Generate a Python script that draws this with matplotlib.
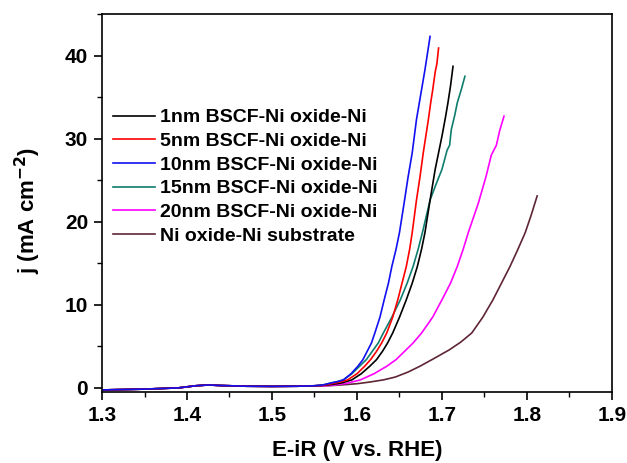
import matplotlib.pyplot as plt
from matplotlib.ticker import MultipleLocator

plt.rcParams['font.family'] = ['Liberation Sans', 'DejaVu Sans']
plt.rcParams['font.weight'] = 'bold'
plt.rcParams['mathtext.default'] = 'bf'

# shared low-potential baseline (all curves overlap here)
e_base = [1.30, 1.35, 1.39, 1.41, 1.425, 1.44, 1.47, 1.50, 1.53, 1.55]
j_base = [-0.25, -0.15, 0.0, 0.25, 0.35, 0.28, 0.2, 0.18, 0.2, 0.25]

# 1nm BSCF-Ni oxide-Ni
e_1nm = [1.56, 1.57, 1.582, 1.594, 1.605, 1.615, 1.623, 1.630, 1.636, 1.642, 1.650, 1.658, 1.665,
         1.671, 1.676, 1.680, 1.686, 1.692, 1.696, 1.700, 1.704, 1.707, 1.710, 1.713]
j_1nm = [0.3, 0.4, 0.6, 0.96, 1.7, 2.6, 3.4, 4.4, 5.4, 6.6, 8.5, 10.6, 12.6,
         14.6, 16.7, 18.7, 22.6, 26.3, 28.3, 30.3, 32.5, 34.3, 36.3, 38.7]

# 5nm BSCF-Ni oxide-Ni
e_5nm = [1.56, 1.57, 1.580, 1.589, 1.600, 1.609, 1.616, 1.623, 1.629, 1.635, 1.642, 1.648, 1.653,
         1.658, 1.662, 1.665, 1.670, 1.674, 1.678, 1.684, 1.687, 1.689, 1.692, 1.694, 1.696]
j_5nm = [0.3, 0.5, 0.7, 0.96, 1.7, 2.6, 3.4, 4.4, 5.4, 6.6, 8.5, 10.6, 12.6,
         14.6, 16.7, 18.7, 22.6, 25.3, 28.3, 32.3, 34.5, 35.8, 38.0, 39.0, 40.9]

# 10nm BSCF-Ni oxide-Ni
e_10nm = [1.56, 1.57, 1.577, 1.584, 1.593, 1.601, 1.607, 1.612, 1.617, 1.621, 1.627, 1.632, 1.637,
          1.641, 1.646, 1.650, 1.656, 1.660, 1.665, 1.670, 1.675, 1.680, 1.686]
j_10nm = [0.35, 0.6, 0.75, 0.96, 1.7, 2.6, 3.4, 4.4, 5.4, 6.6, 8.5, 10.6, 12.6,
          14.6, 16.7, 18.7, 22.6, 25.3, 28.3, 32.3, 35.3, 38.3, 42.3]

# 15nm BSCF-Ni oxide-Ni
e_15nm = [1.56, 1.57, 1.577, 1.584, 1.594, 1.603, 1.611, 1.618, 1.625, 1.631, 1.641, 1.651, 1.659,
          1.666, 1.672, 1.677, 1.686, 1.693, 1.700, 1.706, 1.709, 1.711, 1.715, 1.718, 1.723, 1.727]
j_15nm = [0.35, 0.6, 0.75, 0.96, 1.7, 2.6, 3.4, 4.4, 5.4, 6.6, 8.5, 10.6, 12.6,
          14.6, 16.7, 18.7, 22.6, 24.5, 26.3, 28.6, 29.2, 31.1, 32.8, 34.3, 36.0, 37.5]

# 20nm BSCF-Ni oxide-Ni
e_20nm = [1.56, 1.57, 1.588, 1.604, 1.620, 1.635, 1.646, 1.656, 1.666, 1.676, 1.689, 1.700, 1.710,
          1.718, 1.725, 1.731, 1.737, 1.743, 1.752, 1.758, 1.761, 1.764, 1.768, 1.773]
j_20nm = [0.25, 0.3, 0.55, 0.96, 1.7, 2.6, 3.4, 4.4, 5.4, 6.6, 8.5, 10.6, 12.6,
          14.6, 16.7, 18.7, 20.5, 22.3, 25.5, 28.0, 28.6, 29.2, 31.0, 32.7]

# Ni oxide-Ni substrate
e_sub = [1.56, 1.57, 1.585, 1.600, 1.615, 1.631, 1.645, 1.660, 1.674, 1.690, 1.709, 1.722, 1.735,
         1.748, 1.760, 1.770, 1.780, 1.789, 1.798, 1.805, 1.812]
j_sub = [0.25, 0.28, 0.38, 0.5, 0.7, 0.96, 1.3, 1.9, 2.6, 3.5, 4.6, 5.5, 6.6,
         8.5, 10.6, 12.6, 14.6, 16.6, 18.7, 20.8, 23.1]

labels = ['1nm BSCF-Ni oxide-Ni', '5nm BSCF-Ni oxide-Ni', '10nm BSCF-Ni oxide-Ni',
          '15nm BSCF-Ni oxide-Ni', '20nm BSCF-Ni oxide-Ni', 'Ni oxide-Ni substrate']
colors = ['#000000', '#ff0000', '#1010f0', '#0e7d6e', '#ff00ff', '#5e2535']
series = [(e_1nm, j_1nm), (e_5nm, j_5nm), (e_10nm, j_10nm),
          (e_15nm, j_15nm), (e_20nm, j_20nm), (e_sub, j_sub)]

fig = plt.figure(figsize=(6.27, 4.63), dpi=100)
ax = fig.add_axes([0.1627, 0.1533, 0.8133, 0.8165])

# draw substrate first so the others sit on top, legend order kept
order = [5, 4, 3, 0, 1, 2]
handles = {}
for i in order:
    e, j = series[i]
    ln, = ax.plot(e_base + e, j_base + j, color=colors[i], lw=1.2, label=labels[i])
    handles[i] = ln

ax.set_xlim(1.3, 1.9)
ax.set_ylim(-0.5, 45)
ax.xaxis.set_major_locator(MultipleLocator(0.1))
ax.xaxis.set_minor_locator(MultipleLocator(0.05))
ax.yaxis.set_major_locator(MultipleLocator(10))
ax.yaxis.set_minor_locator(MultipleLocator(5))
ax.tick_params(which='major', direction='out', length=6, width=1.2, labelsize=15, pad=4)
ax.tick_params(which='minor', direction='out', length=3.5, width=1.0)
for s in ax.spines.values():
    s.set_linewidth(1.2)

ax.set_xlabel('E-iR (V vs. RHE)', fontsize=16, fontweight='bold')
ax.xaxis.set_label_coords(0.5, -0.128)
ax.set_ylabel('j (mA cm$^{-2}$)', fontsize=16, fontweight='bold')
ax.yaxis.set_label_coords(-0.115, 0.48)

ax.legend([handles[i] for i in range(6)], labels, loc='upper left',
          bbox_to_anchor=(0.0216, 0.749), frameon=False, fontsize=14,
          handlelength=2.16, labelspacing=0.31, handletextpad=0.26,
          borderpad=0, borderaxespad=0)

fig.savefig('out.png', dpi=100)
